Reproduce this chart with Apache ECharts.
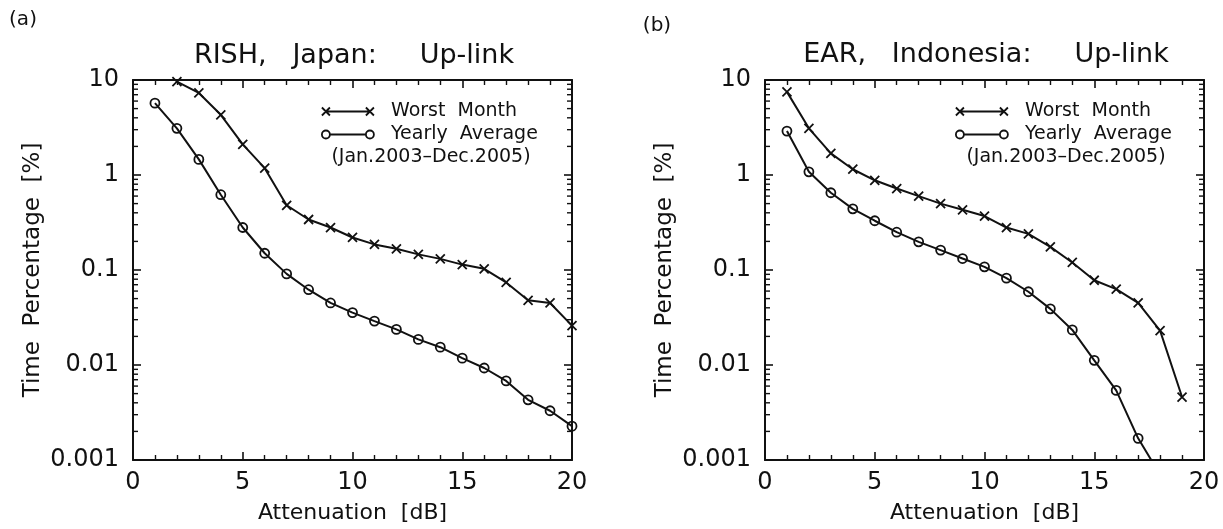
<!DOCTYPE html>
<html>
<head>
<meta charset="utf-8">
<title>Up-link attenuation</title>
<script src="https://cdn.jsdelivr.net/npm/echarts@6/dist/echarts.min.js"></script>
<style>
html, body { margin: 0; padding: 0; background: #fff; }
#chart { width: 1223px; height: 529px; }
</style>
</head>
<body>
<div id="chart"></div>
<script>
// attenuation steps [dB]
var attenuationDb = [1, 2, 3, 4, 5, 6, 7, 8, 9, 10, 11, 12, 13, 14, 15, 16, 17, 18, 19, 20];

// time percentage [%]
var rishWorst = [null, 9.6, 7.3, 4.3, 2.1, 1.18, 0.48, 0.34, 0.28, 0.22, 0.186, 0.167, 0.146, 0.131, 0.114, 0.103, 0.074, 0.048, 0.045, 0.026];
var rishYearly = [5.7, 3.1, 1.46, 0.62, 0.28, 0.15, 0.091, 0.062, 0.045, 0.0356, 0.029, 0.0237, 0.0186, 0.0154, 0.0118, 0.0093, 0.0068, 0.0043, 0.0033, 0.00227];
var earWorst = [7.5, 3.1, 1.69, 1.15, 0.88, 0.72, 0.6, 0.5, 0.43, 0.37, 0.28, 0.24, 0.175, 0.12, 0.078, 0.063, 0.045, 0.023, 0.0046, null];
var earYearly = [2.9, 1.08, 0.65, 0.44, 0.33, 0.25, 0.198, 0.162, 0.132, 0.108, 0.082, 0.059, 0.039, 0.0234, 0.0112, 0.0054, 0.00169, 0.0007, null, null];

var seriesNames = ['Worst Month', 'Yearly Average'];
var panelTitles = ['RISH,   Japan:     Up-link', 'EAR,   Indonesia:     Up-link'];
var panelTags = ['(a)', '(b)'];
var periodText = '(Jan.2003\u2013Dec.2005)';

var X_MIN = 0, X_MAX = 20;
var Y_MIN = 0.001, Y_MAX = 10;

// log minor tick values 2..9 x 10^k
var logMinorTicks = [];
for (var k = -3; k < 1; k++) {
    for (var m = 2; m <= 9; m++) {
        logMinorTicks.push(m * Math.pow(10, k));
    }
}

var FONT = '"DejaVu Sans", sans-serif';
var INK = '#111';

var crossSymbol = 'path://M0,0L10,10M0,10L10,0';
var crossIcon = 'path://M4,4L48,4M0,0L8,8M0,8L8,0M44,0L52,8M44,8L52,0';
var circleIcon = 'path://M8,4L44,4M0,4a4,4 0 1,0 8,0a4,4 0 1,0 -8,0M44,4a4,4 0 1,0 8,0a4,4 0 1,0 -8,0';

function pairs(values) {
    return attenuationDb.map(function (x, i) {
        return values[i] == null ? null : [x, values[i]];
    });
}

function xAxisFor(grid, top) {
    return {
        type: 'value', gridIndex: grid, position: top ? 'top' : 'bottom',
        min: X_MIN, max: X_MAX, interval: 5,
        axisLine: { show: true, onZero: false, lineStyle: { color: INK, width: 2 } },
        axisTick: { show: true, inside: true, length: 8, lineStyle: { color: INK, width: 1.6 } },
        minorTick: { show: true, splitNumber: 5, length: 5, lineStyle: { color: INK, width: 1.4 } },
        axisLabel: { show: !top, margin: 11, fontSize: 24, fontFamily: FONT, color: INK },
        splitLine: { show: false },
        name: top ? '' : 'Attenuation  [dB]',
        nameLocation: 'middle', nameGap: 42,
        nameTextStyle: { fontSize: 22, fontFamily: FONT, color: INK }
    };
}

function yAxisFor(grid, right) {
    return {
        type: 'log', logBase: 10, gridIndex: grid, position: right ? 'right' : 'left',
        min: Y_MIN, max: Y_MAX,
        axisLine: { show: true, onZero: false, lineStyle: { color: INK, width: 2 } },
        axisTick: { show: true, inside: true, length: 8, lineStyle: { color: INK, width: 1.6 } },
        axisLabel: {
            show: !right, margin: 14, fontSize: 24, fontFamily: FONT, color: INK,
            formatter: function (v) { return String(v); }
        },
        splitLine: { show: false },
        name: right ? '' : 'Time  Percentage  [%]',
        nameLocation: 'middle', nameGap: 88,
        nameTextStyle: { fontSize: 23, fontFamily: FONT, color: INK }
    };
}

function lineSeries(name, values, grid, isCross) {
    return {
        name: name, type: 'line', data: pairs(values),
        xAxisIndex: grid * 2, yAxisIndex: grid * 2,
        symbol: isCross ? crossSymbol : 'circle', symbolSize: 9,
        showAllSymbol: true, connectNulls: false, clip: true,
        lineStyle: { color: INK, width: 2 },
        itemStyle: { color: 'rgba(0,0,0,0)', borderColor: INK, borderWidth: 1.8 },
        emphasis: { disabled: true }
    };
}

function minorTickSeries(grid) {
    return {
        type: 'custom', xAxisIndex: grid * 2, yAxisIndex: grid * 2, silent: true, z: 5,
        data: logMinorTicks.map(function (v) { return [X_MIN, v]; }),
        renderItem: function (params, api) {
            var v = api.value(1);
            var a = api.coord([X_MIN, v]);
            var b = api.coord([X_MAX, v]);
            var st = { stroke: INK, lineWidth: 1.4 };
            return {
                type: 'group', children: [
                    { type: 'line', shape: { x1: a[0], y1: a[1], x2: a[0] + 5, y2: a[1] }, style: st },
                    { type: 'line', shape: { x1: b[0], y1: b[1], x2: b[0] - 5, y2: b[1] }, style: st }
                ]
            };
        }
    };
}

function legendFor(left) {
    return {
        orient: 'vertical', left: left, top: 102, padding: 0, itemGap: 4,
        itemWidth: 52, itemHeight: 8,
        selectedMode: false,
        data: [
            { name: seriesNames[0], icon: crossIcon },
            { name: seriesNames[1], icon: circleIcon }
        ],
        itemStyle: { color: 'rgba(0,0,0,0)', borderColor: INK, borderWidth: 1.8 },
        formatter: function (n) { return '  ' + n.replace(' ', '  '); },
        textStyle: { fontSize: 19, lineHeight: 19, fontFamily: FONT, color: INK }
    };
}

function label(text, x, y, size) {
    return {
        type: 'text', x: x, y: y, silent: true,
        style: {
            text: text, fontSize: size, fontFamily: FONT, fill: INK,
            textAlign: 'center', textVerticalAlign: 'middle', align: 'center', verticalAlign: 'middle'
        }
    };
}

var chart = echarts.init(document.getElementById('chart'), null, { renderer: 'canvas' });
chart.setOption({
    animation: false,
    backgroundColor: '#fff',
    grid: [
        { left: 133, top: 80, width: 439, height: 381 },
        { left: 765, top: 80, width: 439, height: 381 }
    ],
    xAxis: [xAxisFor(0, false), xAxisFor(0, true), xAxisFor(1, false), xAxisFor(1, true)],
    yAxis: [yAxisFor(0, false), yAxisFor(0, true), yAxisFor(1, false), yAxisFor(1, true)],
    legend: [legendFor(321), legendFor(955)],
    graphic: [
        label(panelTags[0], 23, 20, 20),
        label(panelTags[1], 657, 26, 20),
        label(panelTitles[0], 354, 56, 27),
        label(panelTitles[1], 986, 55, 27),
        label(periodText, 431, 157, 19),
        label(periodText, 1066, 157, 19)
    ],
    series: [
        lineSeries(seriesNames[0], rishWorst, 0, true),
        lineSeries(seriesNames[1], rishYearly, 0, false),
        lineSeries(seriesNames[0], earWorst, 1, true),
        lineSeries(seriesNames[1], earYearly, 1, false),
        minorTickSeries(0),
        minorTickSeries(1)
    ]
});
</script>
</body>
</html>
